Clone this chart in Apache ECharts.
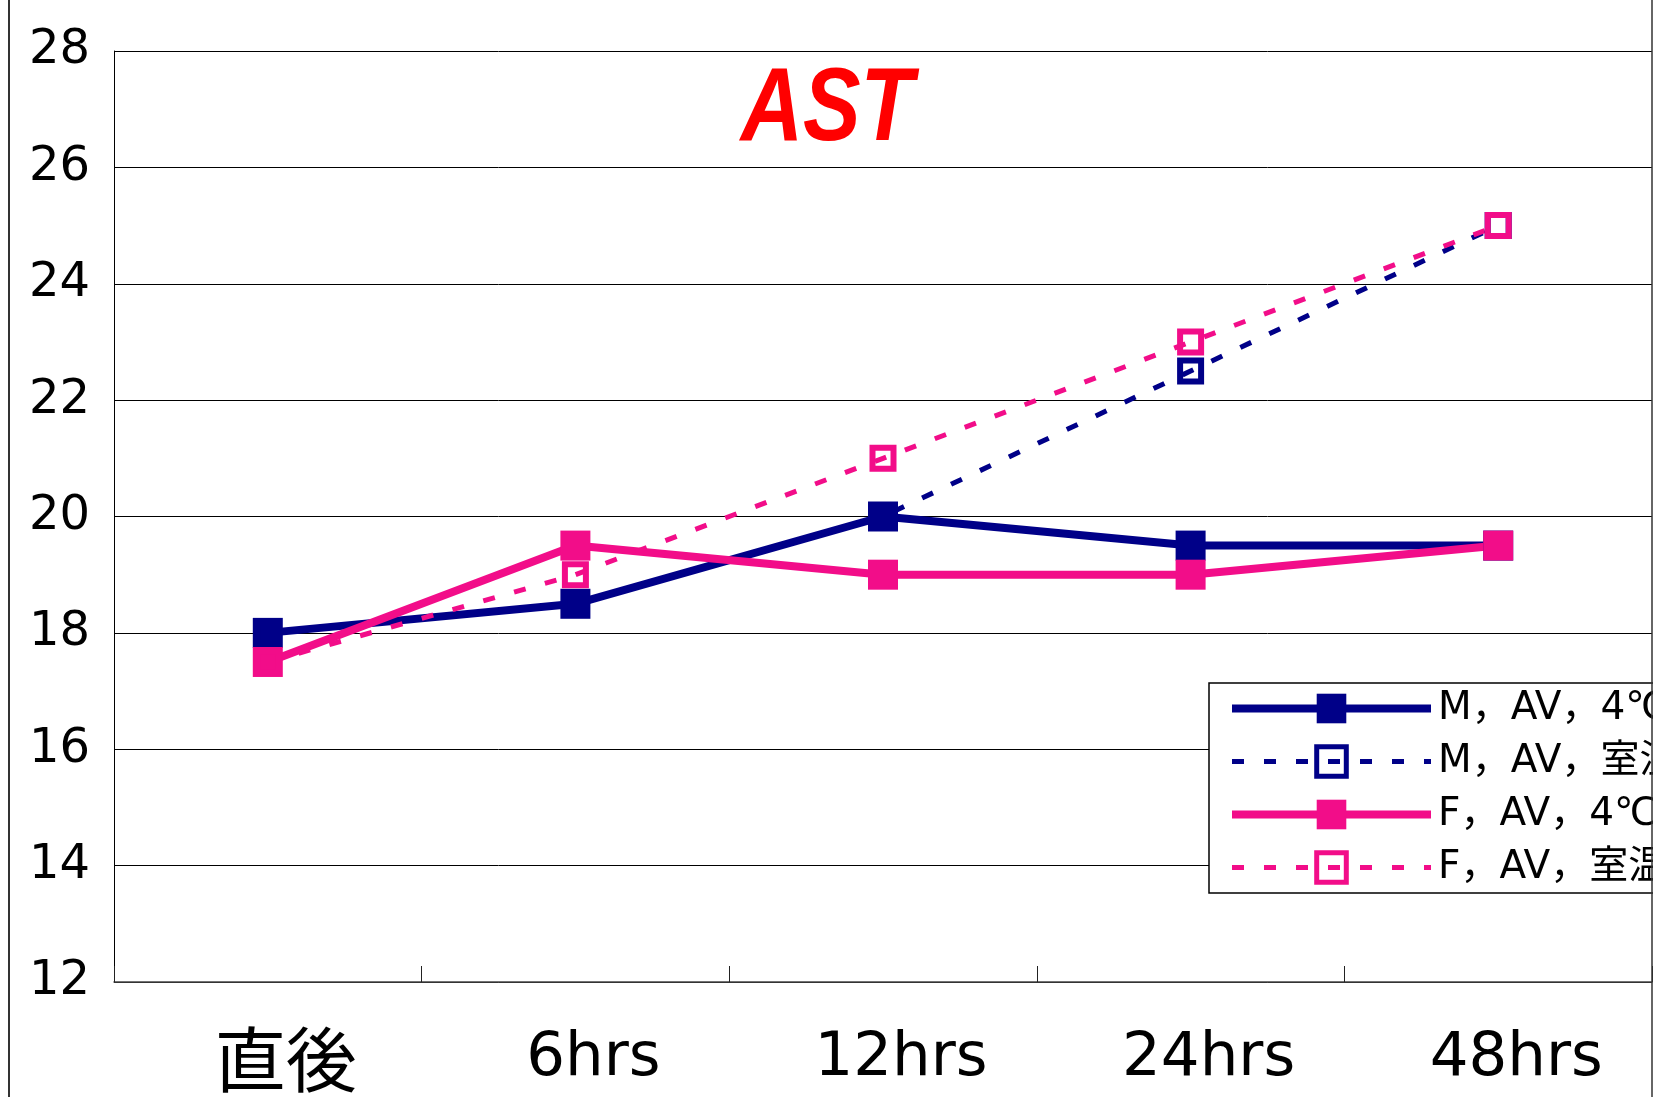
<!DOCTYPE html>
<html>
<head>
<meta charset="utf-8">
<script src="https://cdn.jsdelivr.net/npm/echarts@6/dist/echarts.min.js"></script>
<style>
html,body{margin:0;padding:0;background:#fff;}
#chart{width:1673px;height:1097px;}
</style>
</head>
<body>
<div id="chart"></div>
<script>
const categories = ['直後', '6hrs', '12hrs', '24hrs', '48hrs'];
const seriesNames = ['M，AV，4℃', 'M，AV，室温', 'F，AV，4℃', 'F，AV，室温'];
const m4 = [18, 18.5, 20, 19.5, 19.5];
const mRoom = [18, 18.5, 20, 22.5, 25];
const f4 = [17.5, 19.5, 19, 19, 19.5];
const fRoom = [17.5, 19, 21, 23, 25];
const yTicks = [12, 14, 16, 18, 20, 22, 24, 26, 28];

const NAVY = '#000088';
const PINK = '#F20D89';
const latin = 'DejaVu Sans, Noto Sans CJK JP, sans-serif';
const DASH = [12, 20];

const chart = echarts.init(document.getElementById('chart'));
chart.setOption({
  backgroundColor: '#fff',
  animation: false,
  grid: {left: 114, right: 21, top: 51, bottom: 115},
  xAxis: {
    type: 'category',
    data: categories,
    boundaryGap: true,
    axisLine: {show: true, lineStyle: {color: '#444', width: 1.5}},
    axisTick: {show: true, inside: true, length: 16, lineStyle: {color: '#222', width: 1}},
    axisLabel: {
      margin: 45,
      padding: [0, 0, 0, 36],
      formatter: function (v) { return /[\u3000-\u9fff]/.test(v) ? '{c|' + v + '}' : '{a|' + v + '}'; },
      rich: {
        a: {fontFamily: latin, fontSize: 61, color: '#000', lineHeight: 64},
        c: {fontFamily: 'Noto Sans CJK JP', fontSize: 71, color: '#000', lineHeight: 64}
      }
    },
    splitLine: {show: false}
  },
  yAxis: {
    type: 'value',
    min: yTicks[0],
    max: yTicks[yTicks.length - 1],
    interval: 2,
    axisLine: {show: true, lineStyle: {color: '#000', width: 1}},
    axisTick: {show: false},
    axisLabel: {margin: 24, fontFamily: latin, fontSize: 48, color: '#000'},
    splitLine: {show: true, lineStyle: {color: '#000', width: 1}}
  },
  legend: {
    orient: 'vertical',
    left: 1209,
    top: 683,
    padding: [6, 0, 6, 19],
    itemWidth: 199,
    itemHeight: 37,
    itemGap: 14,
    backgroundColor: '#fff',
    borderColor: '#000',
    borderWidth: 1.5,
    borderRadius: 0,
    textStyle: {fontFamily: latin, fontSize: 39, color: '#000', lineHeight: 37, padding: [0, 0, 0, 2]},
    data: [
      {name: seriesNames[0], lineStyle: {width: 8}},
      {name: seriesNames[1], lineStyle: {width: 5, type: DASH}, itemStyle: {borderWidth: 5}},
      {name: seriesNames[2], lineStyle: {width: 8}},
      {name: seriesNames[3], lineStyle: {width: 5, type: DASH}, itemStyle: {borderWidth: 5}}
    ]
  },
  series: [
    {
      name: seriesNames[0], type: 'line', data: m4,
      symbol: 'rect', symbolSize: 30,
      lineStyle: {color: NAVY, width: 8},
      itemStyle: {color: NAVY}
    },
    {
      name: seriesNames[1], type: 'line', data: mRoom,
      symbol: 'rect', symbolSize: 21,
      lineStyle: {color: NAVY, width: 5, type: DASH},
      itemStyle: {color: 'rgba(255,255,255,0)', borderColor: NAVY, borderWidth: 6}
    },
    {
      name: seriesNames[2], type: 'line', data: f4,
      symbol: 'rect', symbolSize: 30,
      lineStyle: {color: PINK, width: 8},
      itemStyle: {color: PINK}
    },
    {
      name: seriesNames[3], type: 'line', data: fRoom,
      symbol: 'rect', symbolSize: 21,
      lineStyle: {color: PINK, width: 5, type: DASH},
      itemStyle: {color: 'rgba(255,255,255,0)', borderColor: PINK, borderWidth: 6}
    }
  ],
  graphic: [
    {type: 'rect', z: 100, shape: {x: 1653, y: 0, width: 30, height: 1097}, style: {fill: '#fff'}},
    {type: 'line', z: 101, shape: {x1: 1652, y1: 0, x2: 1652, y2: 1097}, style: {stroke: '#333', lineWidth: 1.5}},
    {type: 'line', z: 101, shape: {x1: 9, y1: 0, x2: 9, y2: 1097}, style: {stroke: '#333', lineWidth: 2}},
    {type: 'text', z: 101, x: 827, y: 111, scaleX: 0.83,
      style: {text: 'AST', fill: '#FF0000', font: 'italic bold 104px "Liberation Sans Narrow", "Liberation Sans", sans-serif',
        textAlign: 'center', textVerticalAlign: 'middle'}}
  ]
});
</script>
</body>
</html>
